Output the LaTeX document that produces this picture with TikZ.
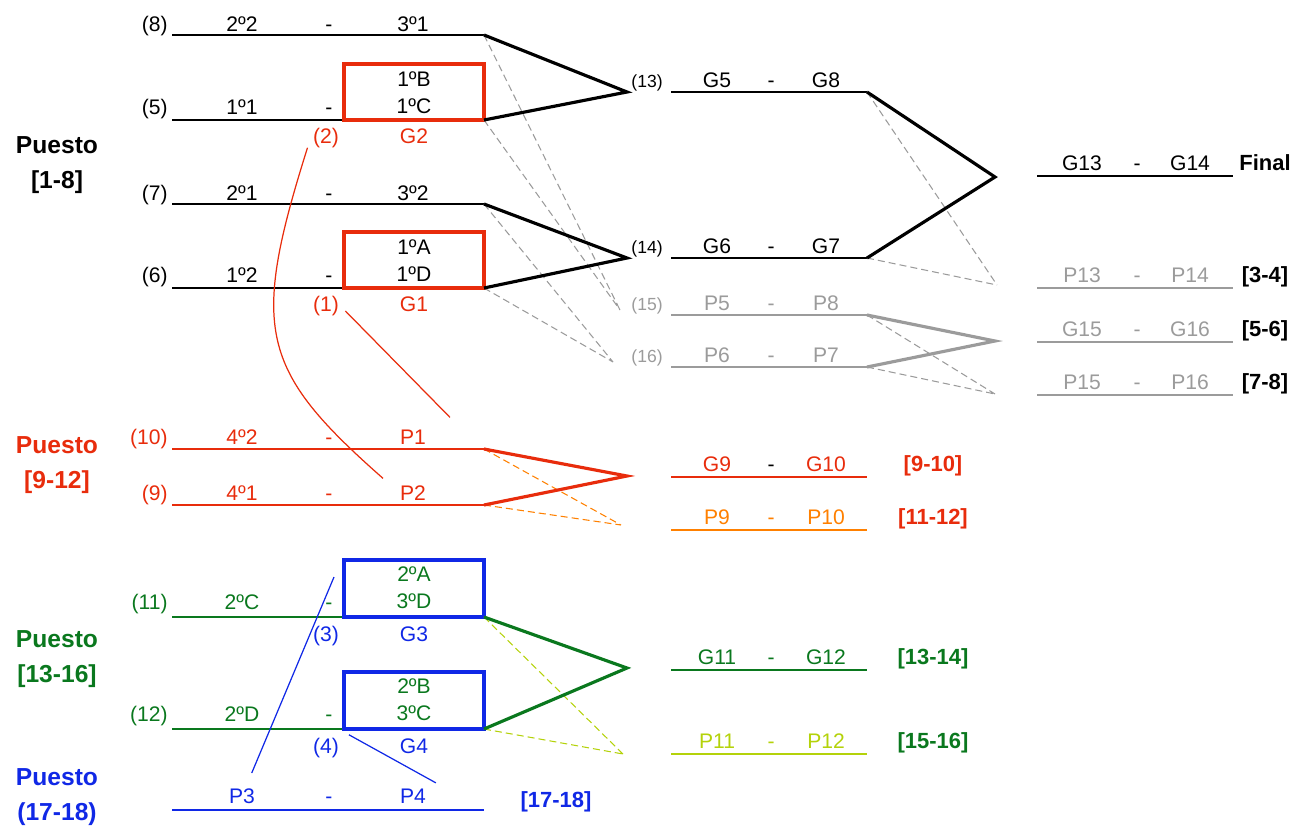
\documentclass[tikz,border=0pt]{standalone}
\usepackage{fontspec}
\setmainfont{Liberation Sans}
\definecolor{rojo}{RGB}{232,44,12}
\definecolor{naranja}{RGB}{255,128,0}
\definecolor{verde}{RGB}{10,120,30}
\definecolor{azul}{RGB}{16,40,230}
\definecolor{lima}{RGB}{180,210,10}
\definecolor{gris}{RGB}{155,155,155}
\tikzset{
  eq/.style={anchor=base,inner sep=0pt,font=\fontsize{12}{14}\selectfont},
  num/.style={eq,anchor=base east},
  chico/.style={anchor=base east,inner sep=0pt,font=\fontsize{10}{12}\selectfont},
  rango/.style={anchor=base,inner sep=0pt,font=\bfseries\fontsize{12.5}{14}\selectfont},
  puesto/.style={align=center,inner sep=0pt,font=\bfseries\fontsize{14}{20}\selectfont},
  linea/.style={line width=1.1pt},
  gana/.style={line width=1.8pt},
  pierde/.style={line width=0.6pt,dash pattern=on 4pt off 2.3pt},
  caja/.style={line width=2.3pt},
  liga/.style={line width=0.7pt}
}
\begin{document}
\begin{tikzpicture}[x=0.02cm,y=-0.02cm]
    \useasboundingbox (0,0) rectangle (1293,825);
    % puestos
    \node[puesto] (t1) at (57,165) {Puesto\\{}[1-8]};
    \node[puesto,rojo] (t9) at (57,465) {Puesto\\{}[9-12]};
    \node[puesto,verde] (t13) at (57,659) {Puesto\\{}[13-16]};
    \node[puesto,azul] (t17) at (57,797) {Puesto\\(17-18)};
    % primera ronda
    \foreach \n/\y/\ea/\eb in {8/35/2º2/3º1,7/204/2º1/3º2}{
        \draw[linea] (172,\y) coordinate (m\n i) -- (484,\y) coordinate (m\n f);
        \node[num] (n\n) at (168,\y-4) {(\n)};
        \node[eq] (a\n) at (242,\y-4) {\ea};
        \node[eq] (s\n) at (329,\y-4) {-};
        \node[eq] (b\n) at (413,\y-4) {\eb};
    }
    \foreach \n/\y/\ea/\eb/\ec/\g/\k in {5/120/1º1/1ºB/1ºC/G2/2,6/288/1º2/1ºA/1ºD/G1/1}{
        \draw[linea] (172,\y) coordinate (m\n i) -- (344,\y);
        \draw[caja,rojo] (344,\y-56) rectangle (484,\y);
        \coordinate (m\n f) at (484,\y);
        \node[num] (n\n) at (168,\y-6) {(\n)};
        \node[eq] (a\n) at (242,\y-6) {\ea};
        \node[eq] (s\n) at (329,\y-6) {-};
        \node[eq] (c\n) at (414,\y-34) {\eb};
        \node[eq] (d\n) at (414,\y-7) {\ec};
        \node[eq,rojo] (r\k) at (326,\y+23) {(\k)};
        \node[eq,rojo] (\g) at (414,\y+23) {\g};
    }
    \foreach \n/\y/\ea/\eb in {10/449/4º2/P1,9/505/4º1/P2}{
        \draw[linea,rojo] (172,\y) coordinate (m\n i) -- (484,\y) coordinate (m\n f);
        \node[num,rojo] (n\n) at (168,\y-4.5) {(\n)};
        \node[eq,rojo] (a\n) at (242,\y-4.5) {\ea};
        \node[eq,rojo] (s\n) at (329,\y-4.5) {-};
        \node[eq,rojo] (b\n) at (413,\y-4.5) {\eb};
    }
    \foreach \n/\y/\ea/\eb/\ec/\g/\k in {11/617/2ºC/2ºA/3ºD/G3/3,12/729/2ºD/2ºB/3ºC/G4/4}{
        \draw[linea,verde] (172,\y) coordinate (m\n i) -- (344,\y);
        \draw[caja,azul] (344,\y-57) rectangle (484,\y);
        \coordinate (m\n f) at (484,\y);
        \node[num,verde] (n\n) at (168,\y-8) {(\n)};
        \node[eq,verde] (a\n) at (242,\y-8) {\ea};
        \node[eq,verde] (s\n) at (329,\y-8) {-};
        \node[eq,verde] (c\n) at (414,\y-36) {\eb};
        \node[eq,verde] (d\n) at (414,\y-9) {\ec};
        \node[eq,azul] (r\k) at (326,\y+24) {(\k)};
        \node[eq,azul] (\g) at (414,\y+24) {\g};
    }
    \draw[linea,azul] (172,810) coordinate (mp3i) -- (484,810) coordinate (mp3f);
    \node[eq,azul] (ap3) at (242,803) {P3};
    \node[eq,azul] (sp3) at (329,803) {-};
    \node[eq,azul] (bp3) at (413,803) {P4};
    \node[rango,azul] (ep3) at (556,807) {[17-18]};
    % segunda ronda
    \foreach \n/\y/\ea/\eb/\co in {13/92/G5/G8/black,14/258/G6/G7/black,15/315/P5/P8/gris,16/367/P6/P7/gris}{
        \draw[linea,\co] (671,\y) coordinate (m\n i) -- (867,\y) coordinate (m\n f);
        \node[chico,\co] (n\n) at (663,\y-5) {(\n)};
        \node[eq,\co] (a\n) at (717,\y-5) {\ea};
        \node[eq,\co] (s\n) at (771,\y-5) {-};
        \node[eq,\co] (b\n) at (826,\y-5) {\eb};
    }
    \foreach \n/\y/\ea/\eb/\co/\cs/\rg/\cr in {g9/477/G9/G10/rojo/black/[9-10]/rojo,p9/530/P9/P10/naranja/naranja/[11-12]/rojo,g11/670/G11/G12/verde/verde/[13-14]/verde,p11/754/P11/P12/lima/lima/[15-16]/verde}{
        \draw[linea,\co] (671,\y) coordinate (m\n i) -- (867,\y) coordinate (m\n f);
        \node[eq,\co] (a\n) at (717,\y-6) {\ea};
        \node[eq,\cs] (s\n) at (771,\y-6) {-};
        \node[eq,\co] (b\n) at (826,\y-6) {\eb};
        \node[rango,\cr] (e\n) at (933,\y-6) {\rg};
    }
    % finales
    \foreach \n/\y/\ea/\eb/\co/\rg in {f/176/G13/G14/black/Final,p13/288/P13/P14/gris/[3-4],g15/342/G15/G16/gris/[5-6],p15/395/P15/P16/gris/[7-8]}{
        \draw[linea,\co] (1037,\y) coordinate (m\n i) -- (1233,\y) coordinate (m\n f);
        \node[eq,\co] (a\n) at (1082,\y-6) {\ea};
        \node[eq,\co] (s\n) at (1137,\y-6) {-};
        \node[eq,\co] (b\n) at (1190,\y-6) {\eb};
        \node[rango] (e\n) at (1265,\y-6) {\rg};
    }
    % cruces
    \coordinate (j13) at (627,92);
    \coordinate (j14) at (627,258);
    \coordinate (l15) at (620,310);
    \coordinate (l16) at (613,362);
    \coordinate (jf) at (995,177);
    \coordinate (lp13) at (997,285);
    \coordinate (jg15) at (995,341);
    \coordinate (lp15) at (995,394);
    \coordinate (jg9) at (627,476);
    \coordinate (lp9) at (621,525);
    \coordinate (jg11) at (627,668);
    \coordinate (lp11) at (623,754);
    \draw[pierde,gris] (m8f) -- (l15) (m5f) -- (l15) (m7f) -- (l16) (m6f) -- (l16);
    \draw[pierde,gris] (m13f) -- (lp13) (m14f) -- (lp13) (m15f) -- (lp15) (m16f) -- (lp15);
    \draw[pierde,naranja] (m10f) -- (lp9) (m9f) -- (lp9);
    \draw[pierde,lima] (m11f) -- (lp11) (m12f) -- (lp11);
    \draw[gana] (m8f) -- (j13) -- (m5f);
    \draw[gana] (m7f) -- (j14) -- (m6f);
    \draw[gana] (m13f) -- (jf) -- (m14f);
    \draw[gana,gris] (m15f) -- (jg15) -- (m16f);
    \draw[gana,rojo] (m10f) -- (jg9) -- (m9f);
    \draw[gana,verde] (m11f) -- (jg11) -- (m12f);
    % repescas
    \draw[liga,rojo] ([xshift=-3pt]r2.south west) .. controls (250,330) and (260,370) .. ([xshift=-9.5pt,yshift=4pt]b9.north west);
    \draw[liga,rojo] ([xshift=3.5pt]r1.base east) -- ([xshift=13.5pt,yshift=7pt]b10.north east);
    \coordinate (x3) at (334,577);
    \draw[liga,azul] (x3) -- ([xshift=-2pt,yshift=8.5pt]ap3.north east);
    \draw[liga,azul] ([xshift=5.5pt,yshift=1.5pt]r4.north east) -- ([xshift=5.5pt,yshift=3pt]bp3.north east);
\end{tikzpicture}
\end{document}
